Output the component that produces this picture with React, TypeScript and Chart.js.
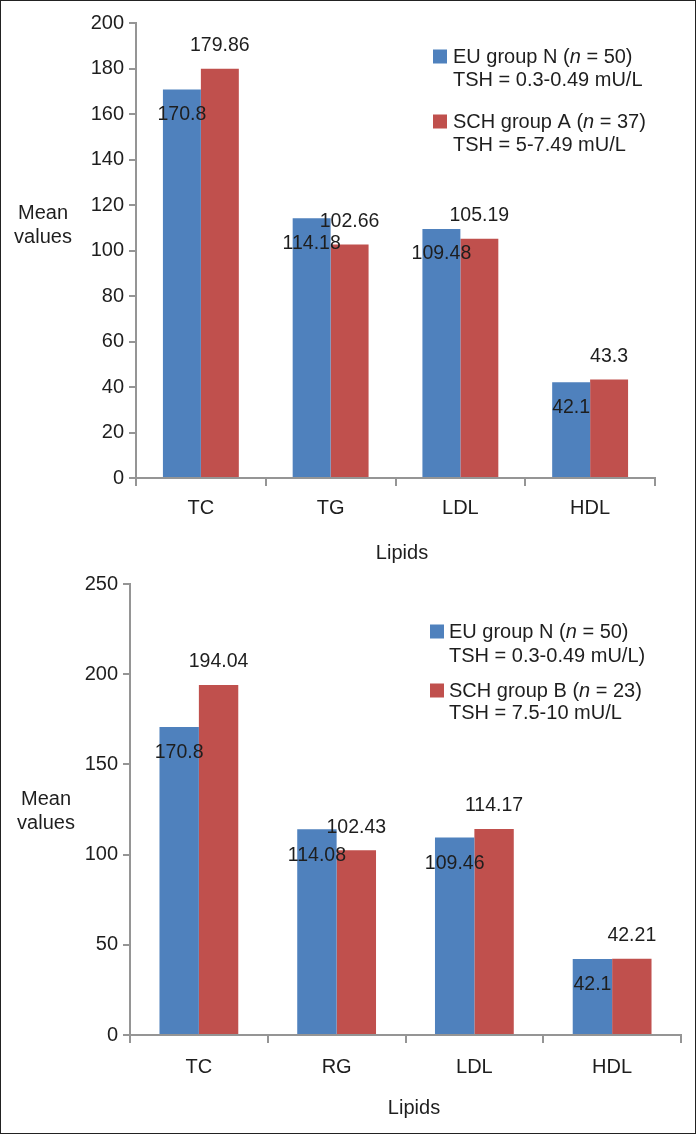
import React, { useEffect, useRef } from 'react';
import { Chart, registerables } from 'chart.js';

Chart.register(...registerables);

// ---------- data ----------
const lipidsA = ['TC', 'TG', 'LDL', 'HDL'];
const euA = [170.8, 114.18, 109.48, 42.1];
const schA = [179.86, 102.66, 105.19, 43.3];
const euLabelA = ['EU group N (', 'n', ' = 50)', 'TSH = 0.3-0.49 mU/L'];
const schLabelA = ['SCH group A (', 'n', ' = 37)', 'TSH = 5-7.49 mU/L'];
const yTicksA = { min: 0, max: 200, step: 20 };

const lipidsB = ['TC', 'RG', 'LDL', 'HDL'];
const euB = [170.8, 114.08, 109.46, 42.1];
const schB = [194.04, 102.43, 114.17, 42.21];
const euLabelB = ['EU group N (', 'n', ' = 50)', 'TSH = 0.3-0.49 mU/L)'];
const schLabelB = ['SCH group B (', 'n', ' = 23)', 'TSH = 7.5-10 mU/L'];
const yTicksB = { min: 0, max: 250, step: 50 };

const yTitleLines = ['Mean', 'values'];
const xTitle = 'Lipids';

// ---------- styles ----------
const FONT = '"Liberation Sans", Arial, Helvetica, sans-serif';
const TEXT = '#1e1e1e';
const AXIS = '#959595';
const BLUE = '#4f81bd';
const RED = '#c0504d';

type Seg = { t: string; i?: boolean };

function drawRich(ctx: CanvasRenderingContext2D, segs: Seg[], x: number, y: number, size: number) {
  let cx = x;
  for (const s of segs) {
    ctx.font = `${s.i ? 'italic ' : ''}${size}px ${FONT}`;
    ctx.fillText(s.t, cx, y);
    cx += ctx.measureText(s.t).width;
  }
}

const decorPlugin = {
  id: 'decor',
  afterDatasetsDraw(chart: any, _args: any, opts: any) {
    const ctx: CanvasRenderingContext2D = chart.ctx;
    ctx.save();
    ctx.fillStyle = TEXT;
    ctx.textAlign = 'center';
    ctx.textBaseline = 'middle';
    ctx.font = `19.5px ${FONT}`;
    chart.data.datasets.forEach((ds: any, di: number) => {
      const meta = chart.getDatasetMeta(di);
      meta.data.forEach((el: any, i: number) => {
        const v = ds.data[i];
        const y = di === 0 ? el.y + opts.belowOffset : el.y - opts.aboveOffset;
        ctx.fillText(String(v), el.x, y);
      });
    });
    ctx.restore();
  },
  afterDraw(chart: any, _args: any, opts: any) {
    const ctx: CanvasRenderingContext2D = chart.ctx;
    ctx.save();
    ctx.fillStyle = TEXT;
    ctx.textBaseline = 'middle';
    // y title (horizontal, two lines)
    ctx.textAlign = 'center';
    ctx.font = `20px ${FONT}`;
    opts.yTitle.lines.forEach((ln: string, k: number) => {
      ctx.fillText(ln, opts.yTitle.x, opts.yTitle.y + k * opts.yTitle.gap);
    });
    // x title
    ctx.fillText(opts.xTitle.text, opts.xTitle.x, opts.xTitle.y);
    // legend
    ctx.textAlign = 'left';
    opts.legend.entries.forEach((en: any) => {
      ctx.fillStyle = en.color;
      ctx.fillRect(opts.legend.boxX, en.y1 - 7.5, 14, 14);
      ctx.fillStyle = TEXT;
      const l = en.label;
      drawRich(ctx, [{ t: l[0] }, { t: l[1], i: true }, { t: l[2] }], opts.legend.textX, en.y1, 20);
      drawRich(ctx, [{ t: l[3] }], opts.legend.textX, en.y2, 20);
    });
    ctx.restore();
  },
};

type Cfg = {
  labels: string[];
  eu: number[];
  sch: number[];
  euLabel: string[];
  schLabel: string[];
  yt: { min: number; max: number; step: number };
  padTop: number;
  padRight: number;
  yAxisWidth: number;
  xAxisHeight: number;
  catPct: number;
  xTickPad: number;
  decor: any;
};

function BarChart({ cfg }: { cfg: Cfg }) {
  const ref = useRef<HTMLCanvasElement>(null);
  useEffect(() => {
    if (!ref.current) return;
    const chart = new Chart(ref.current, {
      type: 'bar',
      data: {
        labels: cfg.labels,
        datasets: [
          { label: cfg.euLabel.join(''), data: cfg.eu, backgroundColor: BLUE, borderWidth: 0 },
          { label: cfg.schLabel.join(''), data: cfg.sch, backgroundColor: RED, borderWidth: 0 },
        ],
      },
      options: {
        responsive: false,
        animation: false,
        events: [],
        layout: { padding: { left: 0, top: cfg.padTop, right: cfg.padRight, bottom: 0 } },
        datasets: { bar: { categoryPercentage: cfg.catPct, barPercentage: 1 } },
        plugins: {
          legend: { display: false },
          tooltip: { enabled: false },
          title: { display: false },
          decor: cfg.decor,
        } as any,
        scales: {
          x: {
            afterFit: (s: any) => { s.height = cfg.xAxisHeight; },
            grid: {
              display: true,
              drawOnChartArea: false,
              drawTicks: true,
              tickLength: 8,
              color: AXIS,
              lineWidth: 2,
              offset: true,
            },
            border: { display: true, color: AXIS, width: 2 },
            ticks: { color: TEXT, font: { family: FONT, size: 20 }, padding: cfg.xTickPad, maxRotation: 0 },
          },
          y: {
            min: cfg.yt.min,
            max: cfg.yt.max,
            afterFit: (s: any) => { s.width = cfg.yAxisWidth; },
            grid: {
              display: true,
              drawOnChartArea: false,
              drawTicks: true,
              tickLength: 7,
              color: AXIS,
              lineWidth: 2,
            },
            border: { display: true, color: AXIS, width: 2 },
            ticks: { stepSize: cfg.yt.step, color: TEXT, font: { family: FONT, size: 20 }, padding: 5 },
          },
        },
      },
      plugins: [decorPlugin],
    } as any);
    return () => chart.destroy();
  }, [cfg]);
  return <canvas ref={ref} width={696} height={567} style={{ display: 'block', width: 696, height: 567 }} />;
}

const cfgA: Cfg = {
  labels: lipidsA,
  eu: euA,
  sch: schA,
  euLabel: euLabelA,
  schLabel: schLabelA,
  yt: yTicksA,
  padTop: 23,
  padRight: 41,
  yAxisWidth: 136,
  xAxisHeight: 89,
  catPct: 0.585,
  xTickPad: 10,
  decor: {
    belowOffset: 25,
    aboveOffset: 23,
    yTitle: { lines: yTitleLines, x: 43, y: 213, gap: 24 },
    xTitle: { text: xTitle, x: 402, y: 553 },
    legend: {
      boxX: 433,
      textX: 453,
      entries: [
        { color: BLUE, label: euLabelA, y1: 57, y2: 80 },
        { color: RED, label: schLabelA, y1: 122, y2: 145 },
      ],
    },
  },
};

const cfgB: Cfg = {
  labels: lipidsB,
  eu: euB,
  sch: schB,
  euLabel: euLabelB,
  schLabel: schLabelB,
  yt: yTicksB,
  padTop: 13,
  padRight: 15,
  yAxisWidth: 130,
  xAxisHeight: 99,
  catPct: 0.572,
  xTickPad: 12,
  decor: {
    belowOffset: 26,
    aboveOffset: 23,
    yTitle: { lines: yTitleLines, x: 46, y: 232, gap: 24 },
    xTitle: { text: xTitle, x: 414, y: 541 },
    legend: {
      boxX: 430,
      textX: 449,
      entries: [
        { color: BLUE, label: euLabelB, y1: 65, y2: 89 },
        { color: RED, label: schLabelB, y1: 124, y2: 146 },
      ],
    },
  },
};

export default function App() {
  return (
    <div style={{ position: 'absolute', left: 0, top: 0, width: 696, height: 1134, background: '#fff', overflow: 'hidden' }}>
      <div style={{ position: 'absolute', left: 0, top: 0 }}>
        <BarChart cfg={cfgA} />
      </div>
      <div style={{ position: 'absolute', left: 0, top: 567 }}>
        <BarChart cfg={cfgB} />
      </div>
      <div
        style={{
          position: 'absolute',
          left: 0,
          top: 0,
          width: 696,
          height: 1134,
          boxSizing: 'border-box',
          border: '1px solid #222',
          pointerEvents: 'none',
        }}
      />
    </div>
  );
}
